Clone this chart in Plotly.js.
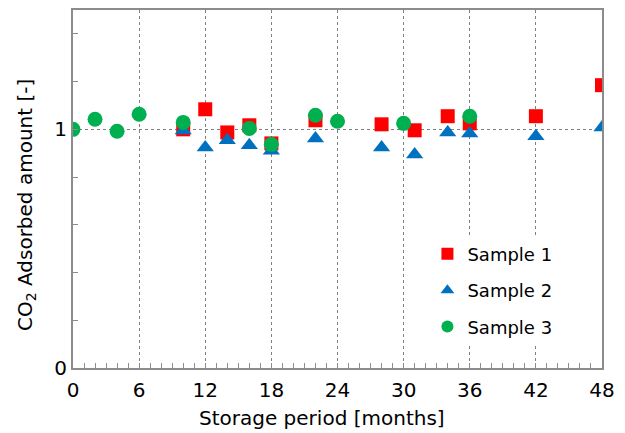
<!DOCTYPE html>
<html>
<head>
<meta charset="utf-8">
<script src="https://cdn.plot.ly/plotly-3.0.1.min.js"></script>
<style>html,body{margin:0;padding:0;background:#fff;}#chart{width:625px;height:433px;}</style>
</head>
<body>
<div id="chart"></div>
<script>
var s1Months = [10, 12, 14, 16, 18, 22, 28, 31, 34, 36, 42, 48];
var s1Values = [1.00, 1.084, 0.987, 1.017, 0.941, 1.038, 1.021, 0.996, 1.055, 1.025, 1.055, 1.185];

var s2Months = [10, 12, 14, 16, 18, 22, 28, 31, 34, 36, 42, 48];
var s2Values = [0.995, 0.924, 0.954, 0.933, 0.91, 0.962, 0.924, 0.895, 0.987, 0.983, 0.971, 1.008];

var s3Months = [0, 2, 4, 6, 10, 16, 18, 22, 24, 30, 36];
var s3Values = [1.00, 1.042, 0.992, 1.063, 1.029, 1.004, 0.937, 1.059, 1.034, 1.025, 1.055];

var seriesNames = ['Sample 1', 'Sample 2', 'Sample 3'];
var xTickVals = [0, 6, 12, 18, 24, 30, 36, 42, 48];
var xTitle = 'Storage period [months]';
var yTitle = 'CO<sub>2</sub> Adsorbed amount [-]';

var FONT = '"DejaVu Sans", sans-serif';

var traces = [
  {x: s1Months, y: s1Values, name: seriesNames[0], type: 'scatter', mode: 'markers', legendgroup: 'a',
   marker: {symbol: 'square', size: 14, color: '#FF0000'}},
  {x: s2Months, y: s2Values, name: seriesNames[1], type: 'scatter', mode: 'markers', legendgroup: 'b',
   marker: {symbol: 'triangle-up', size: 15, color: '#0070C0'}},
  {x: s3Months, y: s3Values, name: seriesNames[2], type: 'scatter', mode: 'markers', legendgroup: 'c',
   marker: {symbol: 'circle', size: 15, color: '#00B050'}}
];

var layout = {
  width: 625, height: 433,
  margin: {l: 73, r: 23, t: 10, b: 65},
  paper_bgcolor: '#fff', plot_bgcolor: '#fff',
  font: {family: FONT, size: 20, color: '#000'},
  showlegend: true,
  legend: {x: 0.67, y: 0.37, xanchor: 'left', yanchor: 'top', bgcolor: '#fff',
           font: {family: FONT, size: 18, color: '#000'}, itemsizing: 'constant', itemwidth: 30,
           traceorder: 'grouped', tracegroupgap: 10},
  xaxis: {
    range: [0, 48], tickvals: xTickVals, ticktext: xTickVals.map(String),
    showline: true, linecolor: '#8c8c8c', linewidth: 2, mirror: true,
    showgrid: true, gridcolor: '#7f7f7f', griddash: 'dot', gridwidth: 1,
    zeroline: false, ticks: 'inside', ticklen: 5, tickcolor: '#8c8c8c',
    minor: {dtick: 1, tick0: 0, ticks: 'inside', ticklen: 5, tickcolor: '#8c8c8c', showgrid: false},
    tickfont: {family: FONT, size: 20}, ticklabelstandoff: 3
  },
  yaxis: {
    range: [0, 1.5], tick0: 0, dtick: 1,
    showline: true, linecolor: '#8c8c8c', linewidth: 2, mirror: true,
    showgrid: true, gridcolor: '#7f7f7f', griddash: 'dot', gridwidth: 1,
    zeroline: false, ticks: 'inside', ticklen: 5, tickcolor: '#8c8c8c',
    minor: {dtick: 0.2, tick0: 0, ticks: 'inside', ticklen: 5, tickcolor: '#8c8c8c', showgrid: false},
    tickfont: {family: FONT, size: 20}
  },
  annotations: [
    {text: xTitle, xref: 'paper', yref: 'paper', x: 0.4707, y: -0.14, xanchor: 'center', yanchor: 'middle',
     showarrow: false, font: {family: FONT, size: 20, color: '#000'}},
    {text: yTitle, xref: 'paper', yref: 'paper', x: -0.089, y: 0.455, xanchor: 'center', yanchor: 'middle',
     textangle: -90, showarrow: false, font: {family: FONT, size: 20, color: '#000'}}
  ]
};

Plotly.newPlot('chart', traces, layout, {displayModeBar: false, staticPlot: true});
</script>
</body>
</html>
